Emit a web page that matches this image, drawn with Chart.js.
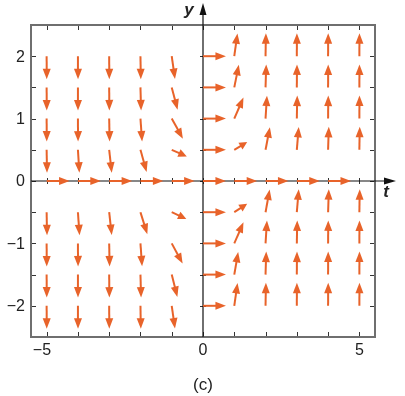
<!DOCTYPE html>
<html>
<head>
<meta charset="utf-8">
<script src="https://cdn.jsdelivr.net/npm/chart.js@4"></script>
<style>
  html, body { margin: 0; padding: 0; background: #fff; }
  canvas { display: block; }
</style>
</head>
<body>
<canvas id="field" width="405" height="396"></canvas>
<script>
// grid of the direction field
var tValues = [-5, -4, -3, -2, -1, 0, 1, 2, 3, 4, 5];
var yValues = [2, 1.5, 1, 0.5, 0, -0.5, -1, -1.5, -2];

// slope dy/dt read off each arrow (row = y value, column = t value), null = no arrow
var slopes = [
    [-100, -100, -100, -30, -3.5, 0, 3.6, 30, 100, 100, 100],
    [-100, -100, -60, -18, -1.9, 0, 2.5, 17, 60, 100, 100],
    [-100, -64, -27, -7, -0.9, 0, 1.15, 8, 27, 64, 100],
    [-30, -8, -4.5, -1.8, -0.22, 0, 0.3, 2.6, 6, 16, 30],
    [0, 0, 0, 0, 0, 0, 0, 0, 0, 0, null],
    [-30, -7, -4.5, -1.6, -0.23, 0, 0.33, 2.75, 6, 16, 30],
    [-100, -64, -27, -7, -0.93, 0, 1.15, 8, 27, 64, 100],
    [-100, -100, -60, -18, -2, 0, 2.9, 17, 60, 100, 100],
    [-100, -100, -100, -30, -3.5, 0, 3.5, 30, 100, 100, 100]
];

var xTickLabels = [-5, 0, 5];
var yTickLabels = [2, 1, 0, -1, -2];
var xMinorTicks = [-5, -4, -3, -2, -1, 0, 1, 2, 3, 4, 5];
var yMinorTicks = [-2, -1.5, -1, -0.5, 0, 0.5, 1, 1.5, 2];

var points = [];
yValues.forEach(function(y, r) {
    tValues.forEach(function(t, c) {
        if (slopes[r][c] !== null) points.push({x: t, y: y, s: slopes[r][c]});
    });
});

var arrowColor = '#e8632a';

function fmt(v) {
    return v < 0 ? '\u2212' + Math.abs(v) : String(v);
}

var framePlugin = {
    id: 'frame',
    beforeDatasetsDraw: function(chart) {
        var ctx = chart.ctx, a = chart.chartArea;
        var xs = chart.scales.x, ys = chart.scales.y;
        var x0 = xs.getPixelForValue(0), y0 = ys.getPixelForValue(0);
        ctx.save();

        // frame ticks (inward, on all sides)
        ctx.strokeStyle = '#333';
        ctx.lineWidth = 1;
        ctx.beginPath();
        xMinorTicks.forEach(function(v) {
            var px = Math.round(xs.getPixelForValue(v)) + 0.5;
            ctx.moveTo(px, a.bottom); ctx.lineTo(px, a.bottom - 5);
            ctx.moveTo(px, a.top); ctx.lineTo(px, a.top + 5);
            ctx.moveTo(px, y0 - 3); ctx.lineTo(px, y0 + 3);
        });
        yMinorTicks.forEach(function(v) {
            var py = Math.round(ys.getPixelForValue(v)) + 0.5;
            ctx.moveTo(a.left, py); ctx.lineTo(a.left + 5, py);
            ctx.moveTo(a.right, py); ctx.lineTo(a.right - 5, py);
            ctx.moveTo(x0 - 3, py); ctx.lineTo(x0 + 3, py);
        });
        ctx.stroke();

        // frame
        ctx.strokeStyle = '#6f6f6f';
        ctx.lineWidth = 2;
        ctx.strokeRect(a.left, a.top, a.right - a.left, a.bottom - a.top);

        // axes with arrowheads
        ctx.strokeStyle = '#111';
        ctx.fillStyle = '#111';
        ctx.lineWidth = 1.2;
        ctx.beginPath();
        ctx.moveTo(x0, a.bottom); ctx.lineTo(x0, 10);
        ctx.moveTo(a.left, y0); ctx.lineTo(389, y0);
        ctx.stroke();
        ctx.beginPath();
        ctx.moveTo(x0, 3); ctx.lineTo(x0 - 3.5, 15); ctx.lineTo(x0 + 3.5, 15); ctx.closePath();
        ctx.moveTo(396, y0); ctx.lineTo(384, y0 - 3.5); ctx.lineTo(384, y0 + 3.5); ctx.closePath();
        ctx.fill();

        // tick labels
        ctx.fillStyle = '#222';
        ctx.font = '16px "Liberation Sans", Arial, sans-serif';
        ctx.textBaseline = 'middle';
        ctx.textAlign = 'right';
        yTickLabels.forEach(function(v) {
            ctx.fillText(fmt(v), a.left - 6, ys.getPixelForValue(v) + 1);
        });
        xTickLabels.forEach(function(v) {
            var w = ctx.measureText(String(Math.abs(v))).width;
            ctx.fillText(fmt(v), xs.getPixelForValue(v) + w / 2, a.bottom + 14);
        });

        // axis names and caption
        ctx.font = 'italic bold 17px "Liberation Sans", Arial, sans-serif';
        ctx.textAlign = 'center';
        ctx.fillText('y', x0 - 14, 10);
        ctx.fillText('t', 386, y0 + 11);
        ctx.font = '17px "Liberation Sans", Arial, sans-serif';
        ctx.fillText('(c)', x0, 385);
        ctx.restore();
    },
    afterDatasetsDraw: function(chart) {
        var ctx = chart.ctx;
        var xs = chart.scales.x, ys = chart.scales.y;
        var meta = chart.getDatasetMeta(0);
        var data = chart.data.datasets[0].data;
        ctx.save();
        ctx.strokeStyle = arrowColor;
        ctx.fillStyle = arrowColor;
        ctx.lineWidth = 2;
        meta.data.forEach(function(el, i) {
            var d = data[i];
            var px = el.x, py = el.y;
            var dx = xs.getPixelForValue(d.x + 1) - px;
            var dy = ys.getPixelForValue(d.y + d.s) - py;
            var m = Math.sqrt(dx * dx + dy * dy);
            var ux = dx / m, uy = dy / m;
            var ang = Math.abs(Math.atan2(-uy, ux)) * 180 / Math.PI;
            var len = 23 - 8 * Math.exp(-Math.pow((ang - 30) / 14, 2));
            var head = Math.min(10.5, len * 0.52), hw = 4;
            var tx = px + ux * len, ty = py + uy * len;
            var bx = tx - ux * head, by = ty - uy * head;
            ctx.beginPath();
            ctx.moveTo(px, py);
            ctx.lineTo(bx + ux, by + uy);
            ctx.stroke();
            ctx.beginPath();
            ctx.moveTo(tx, ty);
            ctx.lineTo(bx - uy * hw, by + ux * hw);
            ctx.lineTo(bx + uy * hw, by - ux * hw);
            ctx.closePath();
            ctx.fill();
        });
        ctx.restore();
    }
};

var ctx = document.getElementById('field').getContext('2d');
var chart = new Chart(ctx, {
    type: 'scatter',
    data: {
        datasets: [{
            data: points,
            pointRadius: 0,
            pointHoverRadius: 0
        }]
    },
    options: {
        responsive: false,
        animation: false,
        layout: {
            padding: {left: 31, top: 25, right: 30, bottom: 59}
        },
        plugins: {
            legend: {display: false},
            tooltip: {enabled: false}
        },
        scales: {
            x: {type: 'linear', min: -5.5, max: 5.5, display: false},
            y: {type: 'linear', min: -2.5, max: 2.5, display: false}
        }
    },
    plugins: [framePlugin]
});
</script>
</body>
</html>
